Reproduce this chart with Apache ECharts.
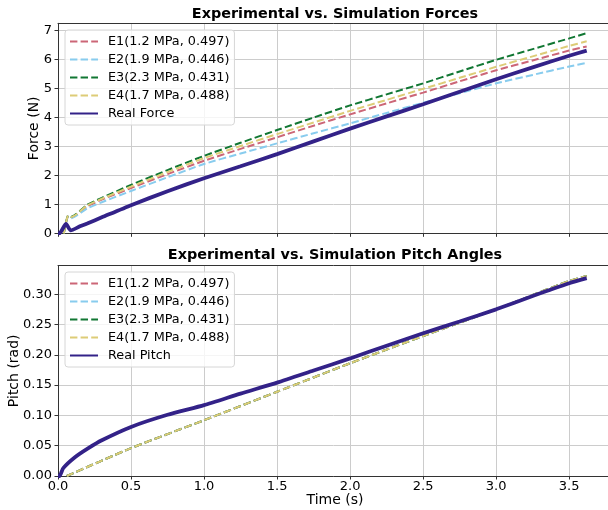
<!DOCTYPE html>
<html>
<head>
<meta charset="utf-8">
<script src="https://cdn.jsdelivr.net/npm/echarts@6/dist/echarts.min.js"></script>
<style>html,body{margin:0;padding:0;background:#fff;overflow:hidden}#c{width:608px;height:510px}</style>
</head>
<body>
<div id="c"></div>
<script>
// ---- data ----
const simNames = ['E1(1.2 MPa, 0.497)', 'E2(1.9 MPa, 0.446)', 'E3(2.3 MPa, 0.431)', 'E4(1.7 MPa, 0.488)'];
const simColors = ['#CC6677', '#88CCEE', '#117733', '#DDCC77'];
const realColor = '#332288';

const simForceTime = [0.04, 0.07, 0.09, 0.2, 0.3, 0.5, 0.75, 1.0, 1.25, 1.5, 1.75, 2.0, 2.25, 2.5, 2.75, 3.0, 3.25, 3.5, 3.62];
const forceE1 = [0, 0.60, 0.55, 0.93, 1.16, 1.56, 2.04, 2.50, 2.91, 3.31, 3.71, 4.10, 4.48, 4.85, 5.24, 5.62, 5.96, 6.30, 6.44];
const forceE2 = [0, 0.58, 0.52, 0.86, 1.07, 1.46, 1.93, 2.39, 2.75, 3.10, 3.45, 3.79, 4.15, 4.50, 4.83, 5.17, 5.46, 5.75, 5.88];
const forceE3 = [0, 0.62, 0.57, 0.98, 1.22, 1.67, 2.18, 2.67, 3.12, 3.56, 3.99, 4.41, 4.79, 5.17, 5.58, 5.98, 6.35, 6.72, 6.90];
const forceE4 = [0, 0.61, 0.56, 0.96, 1.19, 1.61, 2.11, 2.59, 3.01, 3.42, 3.82, 4.22, 4.60, 4.98, 5.36, 5.74, 6.10, 6.46, 6.62];

const realForceTime = [0, 0.01, 0.055, 0.087, 0.15, 0.2, 0.3, 0.5, 0.75, 1.0, 1.25, 1.5, 1.75, 2.0, 2.25, 2.5, 2.75, 3.0, 3.25, 3.5, 3.62];
const realForce = [0, 0, 0.32, 0.10, 0.24, 0.34, 0.55, 0.97, 1.45, 1.90, 2.31, 2.73, 3.17, 3.61, 4.03, 4.45, 4.88, 5.31, 5.72, 6.12, 6.30];

const simPitchTime = [0.06, 0.5, 1.0, 1.5, 2.0, 2.5, 3.0, 3.5, 3.62];
const pitchE1 = [0, 0.046, 0.092, 0.139, 0.186, 0.231, 0.275, 0.322, 0.330];
const pitchE2 = [0, 0.046, 0.092, 0.139, 0.186, 0.231, 0.275, 0.322, 0.330];
const pitchE3 = [0, 0.046, 0.092, 0.139, 0.186, 0.231, 0.275, 0.322, 0.330];
const pitchE4 = [0, 0.046, 0.092, 0.139, 0.186, 0.231, 0.275, 0.322, 0.330];

const realPitchTime = [0, 0.01, 0.036, 0.116, 0.208, 0.3, 0.5, 0.75, 1.0, 1.25, 1.5, 1.75, 2.0, 2.25, 2.5, 2.75, 3.0, 3.25, 3.5, 3.62];
const realPitch = [0, 0, 0.013, 0.031, 0.046, 0.059, 0.081, 0.101, 0.117, 0.136, 0.154, 0.174, 0.194, 0.215, 0.2356, 0.255, 0.275, 0.297, 0.318, 0.3264];

const xTicks = [0, 0.5, 1.0, 1.5, 2.0, 2.5, 3.0, 3.5];
const forceTicks = [0, 1, 2, 3, 4, 5, 6, 7];
const pitchTicks = [0, 0.05, 0.10, 0.15, 0.20, 0.25, 0.30];

// ---- chart ----
const FONT = 'DejaVu Sans';
const XMAX = 4.0;
const PX_PER_S = 146.05;
const zip = (a, b) => a.map((v, i) => [v, b[i]]);
const chart = echarts.init(document.getElementById('c'), null, {renderer: 'canvas'});

const spine = {show: true, onZero: false, lineStyle: {color: '#333', width: 1}};
const gridCommon = {left: 58, width: XMAX * PX_PER_S, show: false, containLabel: false, outerBoundsMode: 'none'};
function xAxis(gi, labels) {
  return {
    type: 'value', gridIndex: gi, position: 'bottom', min: 0, max: XMAX, interval: 0.5,
    axisLine: spine,
    axisTick: {show: true, length: 3.5, lineStyle: {color: '#333'}, customValues: xTicks},
    axisLabel: {show: labels, customValues: xTicks, formatter: v => v.toFixed(1), fontFamily: FONT, fontSize: 13, color: '#000', margin: 4},
    splitLine: {show: true, lineStyle: {color: '#cccccc', width: 1}}
  };
}
function topSpine(gi) {
  return {type: 'value', gridIndex: gi, position: 'top', min: 0, max: XMAX,
    axisLine: spine, axisTick: {show: false}, axisLabel: {show: false}, splitLine: {show: false}};
}
function yAxis(gi, max, interval, ticks, fmt) {
  return {
    type: 'value', gridIndex: gi, min: 0, max: max, interval: interval,
    axisLine: spine,
    axisTick: {show: true, length: 3.5, lineStyle: {color: '#333'}, customValues: ticks},
    axisLabel: {customValues: ticks, formatter: fmt, fontFamily: FONT, fontSize: 13, color: '#000', margin: 6},
    splitLine: {show: true, lineStyle: {color: '#cccccc', width: 1}}
  };
}
const dash = [7.4, 3.2];
function simSeries(name, color, gi, t, v) {
  return {name, type: 'line', xAxisIndex: gi, yAxisIndex: gi, data: zip(t, v), symbol: 'none', smooth: 0.2,
    lineStyle: {color, width: 2, type: dash}, itemStyle: {color}, z: 2};
}
function realSeries(name, gi, t, v) {
  return {name, type: 'line', xAxisIndex: gi, yAxisIndex: gi, data: zip(t, v), symbol: 'none', smooth: 0.2,
    lineStyle: {color: realColor, width: 3.8}, itemStyle: {color: realColor}, z: 3};
}
const legendCommon = {
  orient: 'vertical', left: 65, itemWidth: 28, itemHeight: 14, itemGap: 5,
  padding: [5, 5, 5, 4], backgroundColor: 'rgba(255,255,255,0.8)', borderColor: '#d6d6d6', borderWidth: 1, borderRadius: 3,
  textStyle: {fontFamily: FONT, fontSize: 12.8, color: '#000', padding: [0, 0, 0, 5]},
  itemStyle: {opacity: 0}, z: 10
};

const option = {
  animation: false,
  grid: [
    Object.assign({top: 23.3, height: 210}, gridCommon),
    Object.assign({top: 265.7, height: 210.3}, gridCommon)
  ],
  xAxis: [xAxis(0, false), xAxis(1, true), topSpine(0), topSpine(1)],
  yAxis: [
    yAxis(0, 7.24, 1, forceTicks, v => String(v)),
    yAxis(1, 0.347, 0.05, pitchTicks, v => v.toFixed(2))
  ],
  legend: [
    Object.assign({top: 30, data: simNames.concat(['Real Force'])}, legendCommon),
    Object.assign({top: 272, data: simNames.concat(['Real Pitch'])}, legendCommon)
  ],
  series: [
    simSeries(simNames[0], simColors[0], 0, simForceTime, forceE1),
    simSeries(simNames[1], simColors[1], 0, simForceTime, forceE2),
    simSeries(simNames[2], simColors[2], 0, simForceTime, forceE3),
    simSeries(simNames[3], simColors[3], 0, simForceTime, forceE4),
    realSeries('Real Force', 0, realForceTime, realForce),
    simSeries(simNames[0], simColors[0], 1, simPitchTime, pitchE1),
    simSeries(simNames[1], simColors[1], 1, simPitchTime, pitchE2),
    simSeries(simNames[2], simColors[2], 1, simPitchTime, pitchE3),
    simSeries(simNames[3], simColors[3], 1, simPitchTime, pitchE4),
    realSeries('Real Pitch', 1, realPitchTime, realPitch)
  ],
  graphic: [
    {type: 'text', x: 335, y: 14, style: {text: 'Experimental vs. Simulation Forces', font: 'bold 14.4px "DejaVu Sans"', fill: '#000', textAlign: 'center', textVerticalAlign: 'middle'}},
    {type: 'text', x: 335, y: 255.5, style: {text: 'Experimental vs. Simulation Pitch Angles', font: 'bold 14.4px "DejaVu Sans"', fill: '#000', textAlign: 'center', textVerticalAlign: 'middle'}},
    {type: 'text', x: 34, y: 128.3, rotation: Math.PI / 2, style: {text: 'Force (N)', font: '14px "DejaVu Sans"', fill: '#000', textAlign: 'center', textVerticalAlign: 'middle'}},
    {type: 'text', x: 14, y: 370.8, rotation: Math.PI / 2, style: {text: 'Pitch (rad)', font: '14px "DejaVu Sans"', fill: '#000', textAlign: 'center', textVerticalAlign: 'middle'}},
    {type: 'text', x: 335, y: 500.5, style: {text: 'Time (s)', font: '14px "DejaVu Sans"', fill: '#000', textAlign: 'center', textVerticalAlign: 'middle'}}
  ]
};
chart.setOption(option);
</script>
</body>
</html>
